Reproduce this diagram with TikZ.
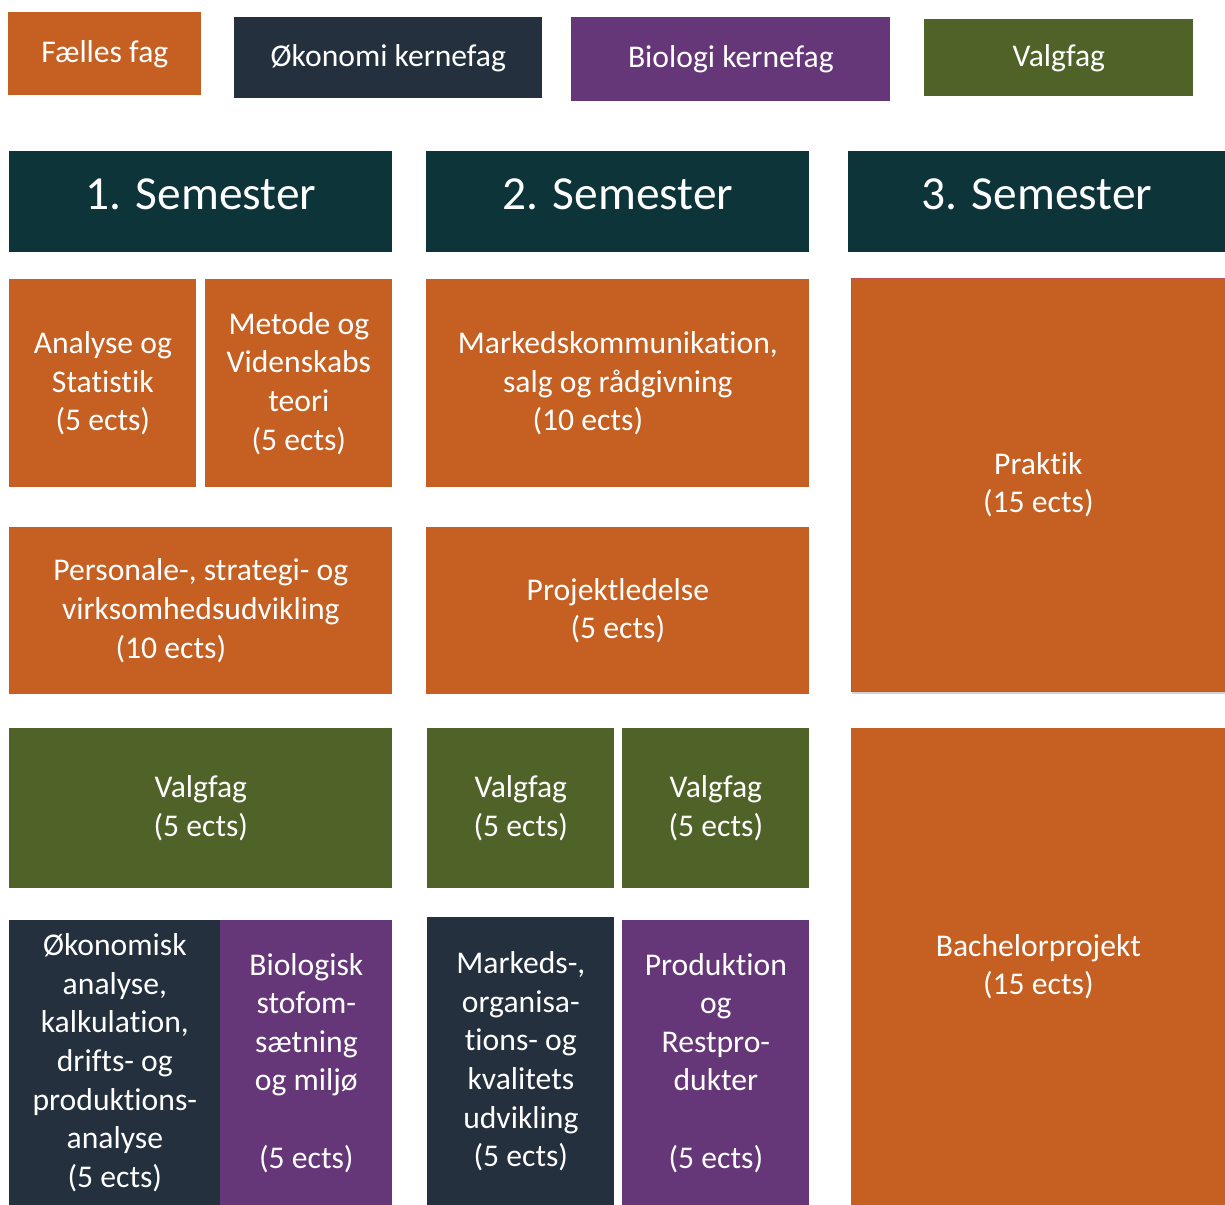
\documentclass[tikz,border=0pt]{standalone}
\usepackage{fontspec}
\setmainfont{Carlito}[Ligatures=NoCommon]
\usetikzlibrary{shadows}

\definecolor{faelles}{HTML}{C55F22}
\definecolor{oekonomi}{HTML}{24303D}
\definecolor{biologi}{HTML}{663778}
\definecolor{valg}{HTML}{4F6228}
\definecolor{semester}{HTML}{0D3438}
\definecolor{kant}{HTML}{C0504D}

\begin{document}
\begin{tikzpicture}[every node/.style={anchor=north west, inner sep=0pt, text=white, align=center, font=\fontsize{18}{22}\selectfont},
    fag/.style={fill=faelles},
    oek/.style={fill=oekonomi},
    bio/.style={fill=biologi},
    vf/.style={fill=valg},
    sem/.style={fill=semester, text depth=0.32cm, font=\fontsize{27}{32}\selectfont}]
     \useasboundingbox (0,0) rectangle (24.5,-24.1);

     % forklaring
     \node[fag, minimum width=3.86cm, minimum height=1.66cm] (legfaelles) at (0.16,-0.24) {Fælles fag};
     \node[oek, minimum width=6.16cm, minimum height=1.62cm] (legoek) at (4.68,-0.34) {Økonomi kernefag};
     \node[bio, minimum width=6.38cm, minimum height=1.68cm] (legbio) at (11.42,-0.34) {Biologi kernefag};
     \node[vf, minimum width=5.38cm, minimum height=1.54cm] (legvalg) at (18.48,-0.38) {Valgfag};

     % semestre
     \node[sem, minimum width=7.66cm, minimum height=2.02cm] (sem1) at (0.18,-3.02) {1. Semester};
     \node[sem, minimum width=7.66cm, minimum height=2.02cm] (sem2) at (8.52,-3.02) {2. Semester};
     \node[sem, minimum width=7.54cm, minimum height=2.02cm] (sem3) at (16.96,-3.02) {3. Semester};

     % 1. semester
     \node[fag, minimum width=3.74cm, minimum height=4.16cm] (analyse) at (0.18,-5.58) {Analyse og\\Statistik\\(5 ects)};
     \node[fag, minimum width=3.74cm, minimum height=4.16cm] (metode) at (4.10,-5.58) {Metode og\\Videnskabs\\teori\\(5 ects)};
     \node[fag, minimum width=7.66cm, minimum height=3.34cm] (personale) at (0.18,-10.54) {Personale-, strategi- og\\virksomhedsudvikling\\(10 ects)\hspace*{1.2cm}};
     \node[vf, minimum width=7.66cm, minimum height=3.2cm] (valg1) at (0.18,-14.56) {Valgfag\\(5 ects)};
     \node[oek, minimum width=4.22cm, minimum height=5.7cm] (oekanalyse) at (0.18,-18.40) {Økonomisk\\analyse,\\kalkulation,\\drifts- og\\produktions-\\analyse\\(5 ects)};
     \node[bio, minimum width=3.44cm, minimum height=5.7cm] (stofom) at (4.40,-18.40) {Biologisk\\stofom-\\sætning\\og miljø\\[22pt](5 ects)};

     % 2. semester
     \node[fag, minimum width=7.66cm, minimum height=4.16cm] (marked) at (8.52,-5.58) {Markedskommunikation,\\salg og rådgivning\\(10 ects)\hspace*{1.2cm}};
     \node[fag, minimum width=7.66cm, minimum height=3.34cm] (projekt) at (8.52,-10.54) {Projektledelse\\(5 ects)};
     \node[vf, minimum width=3.74cm, minimum height=3.2cm] (valg2) at (8.54,-14.56) {Valgfag\\(5 ects)};
     \node[vf, minimum width=3.74cm, minimum height=3.2cm] (valg3) at (12.44,-14.56) {Valgfag\\(5 ects)};
     \node[oek, minimum width=3.74cm, minimum height=5.76cm] (markeds) at (8.54,-18.34) {Markeds-,\\organisa-\\tions- og\\kvalitets\\udvikling\\(5 ects)};
     \node[bio, minimum width=3.74cm, minimum height=5.7cm] (produktion) at (12.44,-18.40) {Produktion\\og\\Restpro-\\dukter\\[22pt](5 ects)};

     % 3. semester
     \node[fag, draw=kant, line width=0.4pt, drop shadow={opacity=0.35, shadow xshift=0.6pt, shadow yshift=-1.6pt}, minimum width=7.48cm, minimum height=8.26cm] (praktik) at (17.02,-5.56) {Praktik\\(15 ects)};
     \node[fag, minimum width=7.48cm, minimum height=9.54cm] (bachelor) at (17.02,-14.56) {Bachelorprojekt\\(15 ects)};
    \end{tikzpicture}
\end{document}
